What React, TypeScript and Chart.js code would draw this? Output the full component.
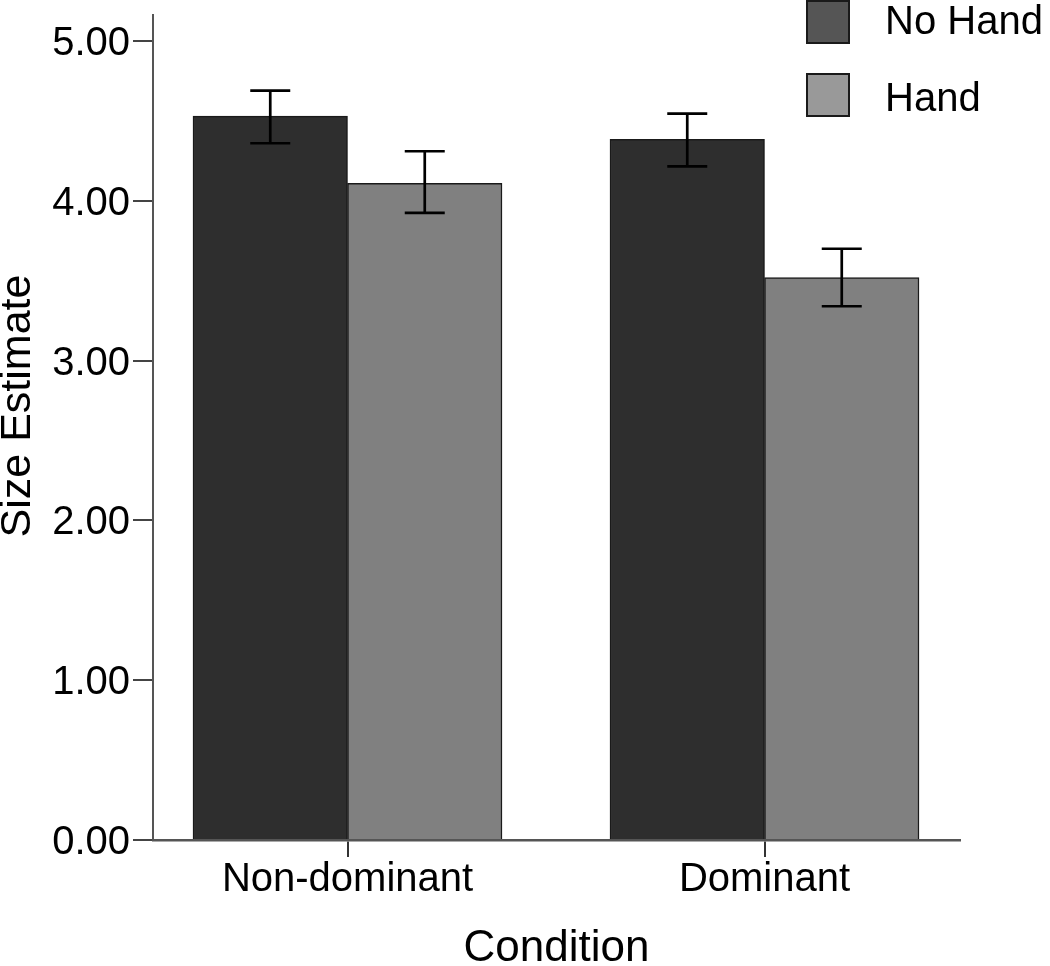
import React, { useEffect, useRef } from "react";
import { Chart, registerables } from "chart.js";

Chart.register(...registerables);

const categories = ["Non-dominant", "Dominant"];
const seriesNames = ["No Hand", "Hand"];
const noHandMeans = [4.53, 4.385];
const noHandUpper = [4.69, 4.545];
const noHandLower = [4.36, 4.215];
const handMeans = [4.11, 3.52];
const handUpper = [4.31, 3.7];
const handLower = [3.925, 3.34];
const yTicks = [0, 1, 2, 3, 4, 5];
const yTitle = "Size Estimate";
const xTitle = "Condition";

const FONT = '"Liberation Sans", Arial, sans-serif';
const barColors = ["#2e2e2e", "#808080"];
const legendColors = ["#555555", "#999999"];
const errUpper = [noHandUpper, handUpper];
const errLower = [noHandLower, handLower];

const errorBarPlugin = {
  id: "errorBars",
  afterDatasetsDraw(chart: any) {
    const ctx = chart.ctx;
    const yScale = chart.scales.y;
    ctx.save();
    ctx.strokeStyle = "#000";
    ctx.lineWidth = 2.7;
    chart.data.datasets.forEach((ds: any, di: number) => {
      const meta = chart.getDatasetMeta(di);
      meta.data.forEach((el: any, i: number) => {
        const x = el.x;
        const yT = yScale.getPixelForValue(errUpper[di][i]);
        const yB = yScale.getPixelForValue(errLower[di][i]);
        const half = 20;
        ctx.beginPath();
        ctx.moveTo(x, yT);
        ctx.lineTo(x, yB);
        ctx.moveTo(x - half, yT);
        ctx.lineTo(x + half, yT);
        ctx.moveTo(x - half, yB);
        ctx.lineTo(x + half, yB);
        ctx.stroke();
      });
    });
    ctx.restore();
  },
};

const legendPlugin = {
  id: "customLegend",
  afterDraw(chart: any) {
    const ctx = chart.ctx;
    ctx.save();
    const boxX = 806;
    const boxSize = 44;
    const rowsY = [0, 73];
    const textY = [23, 99.5];
    chart.data.datasets.forEach((ds: any, di: number) => {
      const y = rowsY[di];
      ctx.fillStyle = legendColors[di];
      ctx.fillRect(boxX, y, boxSize, boxSize);
      ctx.strokeStyle = "#1a1a1a";
      ctx.lineWidth = 2;
      ctx.strokeRect(boxX + 1, y + 1, boxSize - 2, boxSize - 2);
      ctx.fillStyle = "#000";
      ctx.font = `40px ${FONT}`;
      ctx.textAlign = "left";
      ctx.textBaseline = "middle";
      ctx.fillText(ds.label, 885, textY[di]);
    });
    ctx.restore();
  },
};

const yTitlePlugin = {
  id: "yTitle",
  afterDraw(chart: any) {
    const ctx = chart.ctx;
    ctx.save();
    ctx.translate(18, 406);
    ctx.rotate(-Math.PI / 2);
    ctx.fillStyle = "#000";
    ctx.font = `43px ${FONT}`;
    ctx.textAlign = "center";
    ctx.textBaseline = "middle";
    ctx.fillText(yTitle, 0, 0);
    ctx.restore();
  },
};

export default function App() {
  const ref = useRef<HTMLCanvasElement | null>(null);

  useEffect(() => {
    if (!ref.current) return;
    const means = [noHandMeans, handMeans];
    const chart = new Chart(ref.current, {
      type: "bar",
      data: {
        datasets: seriesNames.map((name, si) => ({
          label: name,
          data: categories.map((_, i) => ({ x: i, y: means[si][i] })),
          backgroundColor: barColors[si],
          borderColor: "#1a1a1a",
          borderWidth: 1.5,
          barThickness: 154.5,
        })),
      },
      options: {
        responsive: false,
        animation: false,
        events: [],
        layout: { padding: { top: 15, right: 90, bottom: 0, left: 0 } },
        plugins: {
          legend: { display: false },
          tooltip: { enabled: false },
        },
        scales: {
          x: {
            type: "linear",
            offset: false,
            min: -0.46643,
            max: 1.46882,
            afterBuildTicks: (scale: any) => {
              scale.ticks = categories.map((_, i) => ({ value: i }));
            },
            afterFit: (scale: any) => {
              scale.height = 126;
              scale.paddingLeft = 0;
              scale.paddingRight = 0;
            },
            grid: {
              display: true,
              offset: false,
              drawOnChartArea: false,
              tickLength: 17,
              color: "#333",
              lineWidth: 2,
            },
            border: { display: true, color: "#555", width: 2.5 },
            ticks: {
              color: "#000",
              font: { family: FONT, size: 40 },
              padding: -1,
              maxRotation: 0,
              autoSkip: false,
              callback: (v: any) => categories[v] ?? "",
            },
            title: {
              display: true,
              text: xTitle,
              color: "#000",
              font: { family: FONT, size: 44, lineHeight: 0.8 },
              padding: { top: 0, bottom: 0 },
            },
          },
          y: {
            min: 0,
            max: 5.1627,
            afterBuildTicks: (scale: any) => {
              scale.ticks = yTicks.map((v) => ({ value: v }));
            },
            afterFit: (scale: any) => {
              scale.width = 153;
              scale.paddingTop = 0;
              scale.paddingBottom = 0;
            },
            grid: {
              display: true,
              drawOnChartArea: false,
              tickLength: 20,
              color: "#444",
              lineWidth: 2,
            },
            border: { display: true, color: "#555", width: 2 },
            ticks: {
              color: "#000",
              font: { family: FONT, size: 40 },
              padding: 3,
              labelOffset: 3,
              callback: (v: any) => Number(v).toFixed(2),
            },
            title: { display: false },
          },
        },
      },
      plugins: [errorBarPlugin, legendPlugin, yTitlePlugin],
    } as any);
    return () => chart.destroy();
  }, []);

  return (
    <div style={{ position: "absolute", left: 0, top: 0, width: 1050, height: 966 }}>
      <canvas ref={ref} width={1050} height={966} style={{ display: "block" }} />
    </div>
  );
}
